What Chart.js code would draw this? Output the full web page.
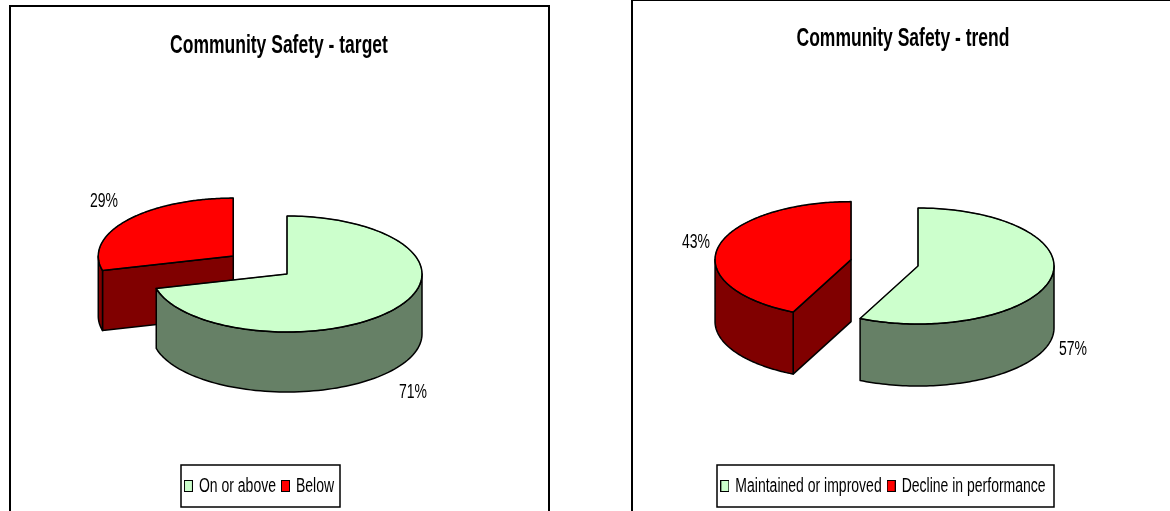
<!DOCTYPE html>
<html><head><meta charset="utf-8">
<script src="https://cdn.jsdelivr.net/npm/chart.js@4"></script>
<style>
html,body{margin:0;padding:0;background:#fff;overflow:hidden;width:1170px;height:511px}
canvas{position:absolute;left:0;top:0}
</style></head><body>
<canvas id="a" width="1170" height="511"></canvas>
<canvas id="b" width="1170" height="511"></canvas>
<script>
const targetTitle = "Community Safety - target";
const targetLabels = ["On or above", "Below"];
const targetValues = [71, 29];
const trendTitle = "Community Safety - trend";
const trendLabels = ["Maintained or improved", "Decline in performance"];
const trendValues = [57, 43];
const topColors = ["#CCFFCC", "#FF0000"];
const sideColors = ["#668066", "#800000"];

const FONT = '"Liberation Sans",Arial,sans-serif';
const NARROW = 0.7; // the reference uses a condensed face that is not installed

function condense(ctx) {
  const fill = ctx.fillText.bind(ctx), measure = ctx.measureText.bind(ctx);
  ctx.fillText = (t, x, y) => {
    ctx.save(); ctx.translate(x, y); ctx.scale(NARROW, 1); fill(t, 0, 0); ctx.restore();
  };
  ctx.measureText = t => {
    const m = measure(t);
    return { width: m.width * NARROW, actualBoundingBoxAscent: m.actualBoundingBoxAscent, actualBoundingBoxDescent: m.actualBoundingBoxDescent };
  };
}

function swatch(color) {
  const s = document.createElement("canvas");
  s.width = 9; s.height = 12;
  const c = s.getContext("2d");
  c.fillStyle = color; c.fillRect(0, 0, 9, 12);
  c.strokeStyle = "#000"; c.lineWidth = 1; c.strokeRect(0.5, 0.5, 8, 11);
  return s;
}

const pie3d = {
  id: "pie3d",
  afterDatasetsUpdate(chart, _a, o) {
    chart.getDatasetMeta(0).data.forEach((arc, i) => {
      const mid = (arc.startAngle + arc.endAngle) / 2;
      arc.x = o.cx + Math.cos(mid) * o.explode[i];
      arc.y = o.cy + Math.sin(mid) * o.explode[i];
    });
  },
  afterLayout(chart, _a, o) {
    const t = chart.titleBlock, l = chart.legend;
    t.left = o.titleX - t.width / 2; t.right = t.left + t.width; t.top = o.titleTop;
    const dx = o.legendX - (l.left + l.right) / 2;
    l.left += dx; l.right += dx; l.top = o.legendTop;
  },
  beforeDraw(chart, _a, o) {
    const c = chart.ctx;
    c.save();
    c.strokeStyle = "#000"; c.lineWidth = 2;
    c.strokeRect(o.frame[0], o.frame[1], o.frame[2] - o.frame[0], o.frame[3] - o.frame[1]);
    c.lineWidth = 1.5;
    c.strokeRect(o.legendBox[0], o.legendBox[1], o.legendBox[2] - o.legendBox[0], o.legendBox[3] - o.legendBox[1]);
    c.restore();
  },
  beforeDatasetsDraw(chart, _a, o) {
    const c = chart.ctx, k = o.ry / o.rx, d = o.depth;
    const px = (arc, a, r) => [arc.x + r * Math.cos(a), o.cy + k * (arc.y - o.cy + r * Math.sin(a))];
    c.save();
    c.strokeStyle = "#000"; c.lineWidth = 1.5; c.lineJoin = "round";
    const arcs = chart.getDatasetMeta(0).data;
    [1, 0].forEach(i => {
      const arc = arcs[i];
      c.fillStyle = sideColors[i];
      const r = arc.outerRadius, walls = [];
      if (Math.cos(arc.startAngle) < -1e-6) walls.push(arc.startAngle);
      if (Math.cos(arc.endAngle) > 1e-6) walls.push(arc.endAngle);
      walls.forEach(a => {
        const p = px(arc, a, 0), q = px(arc, a, r);
        c.beginPath();
        c.moveTo(p[0], p[1]); c.lineTo(q[0], q[1]); c.lineTo(q[0], q[1] + d); c.lineTo(p[0], p[1] + d);
        c.closePath(); c.fill(); c.stroke();
      });
      const s = Math.max(arc.startAngle, 0), e = Math.min(arc.endAngle, Math.PI);
      if (e > s) {
        c.beginPath();
        const n = 80;
        for (let j = 0; j <= n; j++) { const q = px(arc, s + (e - s) * j / n, r); j ? c.lineTo(q[0], q[1]) : c.moveTo(q[0], q[1]); }
        for (let j = n; j >= 0; j--) { const q = px(arc, s + (e - s) * j / n, r); c.lineTo(q[0], q[1] + d); }
        c.closePath(); c.fill(); c.stroke();
      }
    });
    c.restore();
    c.save();
    c.translate(o.cx, o.cy); c.scale(1, k); c.translate(-o.cx, -o.cy);
  },
  afterDatasetsDraw(chart, _a, o) {
    const c = chart.ctx, k = o.ry / o.rx;
    c.restore();
    c.save();
    c.strokeStyle = "#000"; c.lineWidth = 1.5; c.lineJoin = "round";
    chart.getDatasetMeta(0).data.forEach(arc => {
      const r = arc.outerRadius, n = 160;
      c.beginPath();
      c.moveTo(arc.x, o.cy + k * (arc.y - o.cy));
      for (let j = 0; j <= n; j++) {
        const a = arc.startAngle + (arc.endAngle - arc.startAngle) * j / n;
        c.lineTo(arc.x + r * Math.cos(a), o.cy + k * (arc.y - o.cy + r * Math.sin(a)));
      }
      c.closePath(); c.stroke();
    });
    c.fillStyle = "#000";
    c.font = "20px " + FONT;
    c.textAlign = "center"; c.textBaseline = "middle";
    chart.data.datasets[0].data.forEach((v, i) => c.fillText(v + "%", o.labelAt[i][0], o.labelAt[i][1]));
    c.restore();
  }
};

function makeChart(id, title, labels, values, geo) {
  const canvas = document.getElementById(id);
  condense(canvas.getContext("2d"));
  return new Chart(canvas, {
    type: "pie",
    plugins: [pie3d],
    data: { labels, datasets: [{ data: values, backgroundColor: topColors, borderColor: "#000", borderWidth: 1, radius: geo.rx, clip: false }] },
    options: {
      responsive: false, animation: false,
      plugins: {
        tooltip: { enabled: false },
        title: { display: true, text: title, color: "#000", font: { family: FONT, size: 25, weight: "bold" }, padding: 0 },
        legend: {
          position: "bottom",
          labels: {
            color: "#000", font: { family: FONT, size: 20 }, usePointStyle: true, boxWidth: 1, boxHeight: 12, padding: 9,
            generateLabels(chart) {
              return Chart.overrides.pie.plugins.legend.labels.generateLabels(chart)
                .map((item, i) => Object.assign(item, { pointStyle: swatch(topColors[i]) }));
            }
          }
        },
        pie3d: geo
      }
    }
  });
}

makeChart("a", targetTitle, targetLabels, targetValues, {
  cx: 287, cy: 274, rx: 135, ry: 58, depth: 60, explode: [0, 68],
  frame: [10, 6, 549, 530], legendBox: [181, 465, 340, 507],
  titleX: 279, titleTop: 31, legendX: 261, legendTop: 467,
  labelAt: [[413, 392], [104, 201]]
});
makeChart("b", trendTitle, trendLabels, trendValues, {
  cx: 918, cy: 266, rx: 136, ry: 58, depth: 62, explode: [0, 68.6],
  frame: [632, 0, 1190, 530], legendBox: [717, 465, 1054, 507],
  titleX: 903, titleTop: 24, legendX: 885, legendTop: 467,
  labelAt: [[1073, 349], [696, 242]]
});
</script>
</body></html>
